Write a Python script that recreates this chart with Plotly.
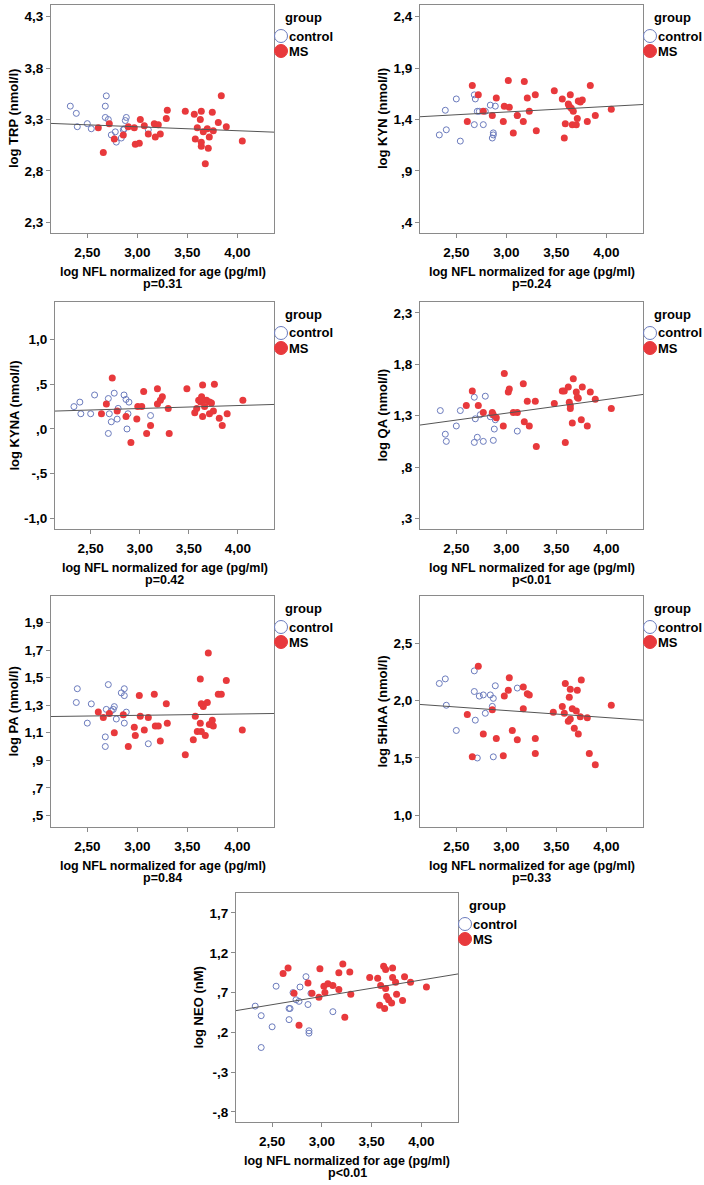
import plotly.graph_objects as go

W, H = 704, 1185
FONT = "Liberation Sans, Arial, sans-serif"
CTRL_COLOR = "#6b7bbd"
MS_COLOR = "#e8393c"
FRAME_COLOR = "#8a8a8a"

# ---------------------------------------------------------------------
# Data
# ---------------------------------------------------------------------
groups = ["control", "MS"]
x_title = "log NFL normalized for age (pg/ml)"
x_range = [2.137, 4.367]
x_tickvals = [2.5, 3.0, 3.5, 4.0]
x_ticktext = ["2,50", "3,00", "3,50", "4,00"]

# TRP
trp_ctrl_x = [2.33, 2.39, 2.40, 2.50, 2.54, 2.69, 2.68, 2.68, 2.71, 2.74, 2.78, 2.79, 2.84, 2.86, 2.87, 2.88, 2.89, 3.11]
trp_ctrl_y = [3.43, 3.36, 3.23, 3.26, 3.21, 3.53, 3.43, 3.32, 3.30, 3.15, 3.18, 3.08, 3.12, 3.20, 3.21, 3.29, 3.32, 3.20]
trp_ms_x = [2.61, 2.66, 2.72, 2.77, 2.86, 2.91, 2.97, 2.98, 3.02, 3.03, 3.07, 3.11, 3.17, 3.18, 3.21, 3.23, 3.29, 3.30, 3.48,
            3.57, 3.60, 3.58, 3.63, 3.64, 3.64, 3.64, 3.66, 3.68, 3.70, 3.71, 3.72, 3.75, 3.76, 3.81, 3.84, 3.89, 4.05]
trp_ms_y = [3.22, 2.98, 3.26, 3.11, 3.15, 3.23, 3.22, 3.06, 3.07, 3.30, 3.24, 3.16, 3.26, 3.13, 3.25, 3.16, 3.31, 3.39, 3.38,
            3.35, 3.22, 3.11, 3.30, 3.38, 3.04, 3.08, 3.18, 2.87, 3.21, 3.02, 3.13, 3.37, 3.19, 3.27, 3.53, 3.23, 3.09]
trp_fit = [3.262, 3.177]

# KYN
kyn_ctrl_x = [2.33, 2.39, 2.40, 2.50, 2.54, 2.68, 2.69, 2.68, 2.71, 2.73, 2.77, 2.79, 2.84, 2.86, 2.87, 2.87, 2.89, 3.11]
kyn_ctrl_y = [1.25, 1.49, 1.30, 1.60, 1.19, 1.64, 1.60, 1.35, 1.48, 1.48, 1.35, 1.48, 1.54, 1.22, 1.25, 1.27, 1.53, 1.44]
kyn_ms_x = [2.61, 2.66, 2.72, 2.77, 2.86, 2.90, 2.97, 2.98, 3.02, 3.03, 3.07, 3.11, 3.17, 3.18, 3.21, 3.23, 3.29, 3.30, 3.48,
            3.56, 3.58, 3.59, 3.62, 3.63, 3.64, 3.65, 3.67, 3.66, 3.70, 3.71, 3.72, 3.76, 3.74, 3.81, 3.84, 3.89, 4.05]
kyn_ms_y = [1.38, 1.73, 1.64, 1.48, 1.44, 1.61, 1.38, 1.53, 1.78, 1.52, 1.27, 1.44, 1.38, 1.77, 1.61, 1.48, 1.64, 1.29, 1.68,
            1.60, 1.22, 1.36, 1.55, 1.53, 1.64, 1.51, 1.48, 1.35, 1.35, 1.41, 1.58, 1.59, 1.57, 1.38, 1.73, 1.44, 1.50]
kyn_fit = [1.427, 1.546]

# KYNA
kyna_ctrl_x = [2.33, 2.39, 2.40, 2.50, 2.54, 2.68, 2.69, 2.68, 2.71, 2.74, 2.77, 2.78, 2.84, 2.86, 2.87, 2.88, 2.89, 3.11]
kyna_ctrl_y = [0.25, 0.30, 0.17, 0.17, 0.38, 0.34, 0.17, -0.05, 0.08, 0.40, 0.11, 0.23, 0.38, 0.33, 0.00, 0.17, 0.30, 0.15]
kyna_ms_x = [2.72, 2.66, 2.61, 2.77, 2.86, 2.91, 2.97, 2.98, 3.02, 3.04, 3.07, 3.11, 3.18, 3.18, 3.21, 3.23, 3.29, 3.30, 3.48,
             3.56, 3.58, 3.60, 3.62, 3.63, 3.64, 3.64, 3.66, 3.68, 3.71, 3.71, 3.73, 3.75, 3.76, 3.81, 3.84, 3.89, 4.05]
kyna_ms_y = [0.57, 0.28, 0.17, 0.20, 0.14, -0.15, 0.11, 0.25, 0.25, 0.42, -0.05, 0.04, 0.45, 0.28, 0.32, 0.36, 0.23, -0.05, 0.45,
             0.18, 0.23, 0.32, 0.30, 0.36, 0.49, 0.14, 0.25, 0.32, 0.30, 0.17, 0.29, 0.20, 0.50, 0.12, 0.04, 0.17, 0.32]
kyna_fit = [0.200, 0.274]

# QA
qa_ctrl_x = [2.34, 2.39, 2.40, 2.50, 2.54, 2.68, 2.68, 2.69, 2.71, 2.74, 2.77, 2.79, 2.84, 2.86, 2.88, 2.87, 2.89, 3.11]
qa_ctrl_y = [1.35, 1.12, 1.05, 1.20, 1.35, 1.48, 1.04, 1.27, 1.09, 1.31, 1.05, 1.49, 1.29, 1.31, 1.17, 1.06, 1.26, 1.15]
qa_ms_x = [2.60, 2.66, 2.72, 2.77, 2.86, 2.87, 2.90, 2.97, 2.98, 3.02, 3.03, 3.07, 3.11, 3.17, 3.18, 3.21, 3.23, 3.29, 3.30,
           3.48, 3.56, 3.58, 3.59, 3.62, 3.63, 3.64, 3.64, 3.66, 3.67, 3.70, 3.71, 3.72, 3.75, 3.76, 3.81, 3.84, 3.89, 4.05]
qa_ms_y = [1.40, 1.54, 1.40, 1.33, 1.33, 1.31, 1.28, 1.20, 1.71, 1.53, 1.56, 1.33, 1.33, 1.61, 1.24, 1.44, 1.20, 1.44, 1.00,
           1.42, 1.54, 1.54, 1.04, 1.58, 1.43, 1.40, 1.37, 1.23, 1.66, 1.53, 1.48, 1.47, 1.26, 1.58, 1.20, 1.53, 1.46, 1.37]
qa_fit = [1.209, 1.507]

# PA
pa_ctrl_x = [2.40, 2.39, 2.50, 2.54, 2.68, 2.68, 2.71, 2.69, 2.74, 2.76, 2.77, 2.79, 2.84, 2.87, 2.87, 2.87, 2.89, 3.11]
pa_ctrl_y = [1.42, 1.32, 1.17, 1.31, 1.07, 1.00, 1.45, 1.27, 1.26, 1.27, 1.29, 1.20, 1.39, 1.42, 1.37, 1.17, 1.25, 1.02]
pa_ms_x = [2.61, 2.66, 2.72, 2.77, 2.86, 2.91, 2.97, 2.98, 3.02, 3.03, 3.07, 3.11, 3.17, 3.18, 3.21, 3.23, 3.29, 3.30, 3.48,
           3.56, 3.58, 3.60, 3.63, 3.63, 3.64, 3.66, 3.64, 3.68, 3.70, 3.71, 3.72, 3.75, 3.76, 3.81, 3.84, 3.89, 4.05]
pa_ms_y = [1.25, 1.21, 1.24, 1.10, 1.23, 1.00, 1.14, 1.08, 1.37, 1.22, 1.12, 1.21, 1.38, 1.15, 1.15, 1.04, 1.31, 1.17, 0.94,
           1.05, 1.22, 1.11, 1.49, 1.17, 1.31, 1.29, 1.11, 1.08, 1.32, 1.68, 1.16, 1.19, 1.15, 1.38, 1.38, 1.48, 1.12]
pa_fit = [1.218, 1.240]

# 5HIAA
hiaa_ctrl_x = [2.33, 2.39, 2.40, 2.50, 2.68, 2.68, 2.69, 2.71, 2.73, 2.77, 2.79, 2.84, 2.87, 2.86, 2.87, 2.89, 3.11]
hiaa_ctrl_y = [2.15, 2.19, 1.96, 1.74, 2.26, 2.08, 1.83, 1.50, 2.04, 2.05, 1.89, 2.05, 2.02, 1.95, 1.51, 2.13, 2.11]
hiaa_ms_x = [2.61, 2.66, 2.72, 2.77, 2.86, 2.90, 2.97, 2.98, 3.02, 3.03, 3.06, 3.11, 3.17, 3.17, 3.21, 3.23, 3.29, 3.29, 3.47,
             3.56, 3.58, 3.59, 3.63, 3.64, 3.62, 3.64, 3.66, 3.68, 3.70, 3.71, 3.72, 3.75, 3.74, 3.81, 3.83, 3.89, 4.05]
hiaa_ms_y = [1.88, 1.51, 2.30, 1.71, 1.92, 1.67, 1.52, 2.04, 2.09, 2.20, 1.74, 1.66, 2.12, 1.93, 2.06, 2.05, 1.54, 1.67, 1.90,
             1.95, 1.89, 2.15, 2.03, 2.10, 1.82, 1.84, 1.93, 1.76, 1.91, 2.09, 1.71, 2.18, 1.86, 1.85, 1.54, 1.44, 1.96]
hiaa_fit = [1.967, 1.830]

# NEO
neo_ctrl_x = [2.33, 2.39, 2.39, 2.50, 2.54, 2.67, 2.68, 2.67, 2.71, 2.74, 2.77, 2.78, 2.84, 2.86, 2.87, 2.87, 2.89, 3.11]
neo_ctrl_y = [0.53, 0.41, 0.01, 0.27, 0.78, 0.50, 0.50, 0.36, 0.70, 0.61, 0.59, 0.77, 0.90, 0.55, 0.22, 0.19, 0.69, 0.46]
neo_ms_x = [2.61, 2.66, 2.72, 2.77, 2.86, 2.90, 2.97, 2.98, 3.02, 3.03, 3.06, 3.11, 3.17, 3.17, 3.21, 3.23, 3.28, 3.29, 3.48,
            3.56, 3.58, 3.59, 3.62, 3.63, 3.64, 3.64, 3.65, 3.67, 3.70, 3.71, 3.71, 3.74, 3.75, 3.81, 3.83, 3.89, 4.05]
neo_ms_y = [0.94, 1.01, 0.69, 0.29, 0.82, 0.69, 0.64, 1.00, 0.78, 0.70, 0.81, 0.79, 0.74, 0.95, 1.06, 0.39, 0.96, 0.68, 0.89,
            0.88, 0.54, 0.79, 1.03, 0.50, 0.99, 0.75, 0.65, 0.61, 0.57, 1.01, 0.89, 0.83, 0.68, 0.60, 0.90, 0.83, 0.77]
neo_fit = [0.473, 0.934]

# ---------------------------------------------------------------------
# Panel definitions: frame in pixels (left, top, right, bottom)
# ---------------------------------------------------------------------
panels = [
    dict(ytitle="log TRP (nmol/l)", p="p=0.31", frame=(51, 5, 274, 233), yrange=[2.196, 4.414],
         yticks=[2.3, 2.8, 3.3, 3.8, 4.3], ytext=["2,3", "2,8", "3,3", "3,8", "4,3"],
         data=(trp_ctrl_x, trp_ctrl_y, trp_ms_x, trp_ms_y, trp_fit)),
    dict(ytitle="log KYN (nmol/l)", p="p=0.24", frame=(420, 5, 643, 233), yrange=[0.296, 2.514],
         yticks=[0.4, 0.9, 1.4, 1.9, 2.4], ytext=[",4", ",9", "1,4", "1,9", "2,4"],
         data=(kyn_ctrl_x, kyn_ctrl_y, kyn_ms_x, kyn_ms_y, kyn_fit)),
    dict(ytitle="log KYNA (nmol/l)", p="p=0.42", frame=(55, 302, 274, 529), yrange=[-1.118, 1.419],
         yticks=[-1.0, -0.5, 0.0, 0.5, 1.0], ytext=["-1,0", "-,5", ",0", ",5", "1,0"],
         data=(kyna_ctrl_x, kyna_ctrl_y, kyna_ms_x, kyna_ms_y, kyna_fit)),
    dict(ytitle="log QA (nmol/l)", p="p<0.01", frame=(420, 302, 643, 529), yrange=[0.197, 2.407],
         yticks=[0.3, 0.8, 1.3, 1.8, 2.3], ytext=[",3", ",8", "1,3", "1,8", "2,3"],
         data=(qa_ctrl_x, qa_ctrl_y, qa_ms_x, qa_ms_y, qa_fit)),
    dict(ytitle="log PA (nmol/l)", p="p=0.84", frame=(51, 596, 274, 827), yrange=[0.415, 2.094],
         yticks=[0.5, 0.7, 0.9, 1.1, 1.3, 1.5, 1.7, 1.9],
         ytext=[",5", ",7", ",9", "1,1", "1,3", "1,5", "1,7", "1,9"],
         data=(pa_ctrl_x, pa_ctrl_y, pa_ms_x, pa_ms_y, pa_fit)),
    dict(ytitle="log 5HIAA (nmol/l)", p="p=0.33", frame=(420, 596, 643, 827), yrange=[0.898, 2.913],
         yticks=[1.0, 1.5, 2.0, 2.5], ytext=["1,0", "1,5", "2,0", "2,5"],
         data=(hiaa_ctrl_x, hiaa_ctrl_y, hiaa_ms_x, hiaa_ms_y, hiaa_fit)),
    dict(ytitle="log NEO (nM)", p="p<0.01", frame=(236, 893, 458, 1122), yrange=[-0.926, 1.951],
         yticks=[-0.8, -0.3, 0.2, 0.7, 1.2, 1.7], ytext=["-,8", "-,3", ",2", ",7", "1,2", "1,7"],
         data=(neo_ctrl_x, neo_ctrl_y, neo_ms_x, neo_ms_y, neo_fit)),
]


def px(x):
    return x / W


def py(y):
    return 1 - y / H


fig = go.Figure()
annotations = []
shapes = []
bold = dict(family=FONT, size=13, color="black", weight="bold")

for i, pn in enumerate(panels, start=1):
    left, top, right, bottom = pn["frame"]
    cx, cy, mx, my, fit = pn["data"]
    xa = "x" if i == 1 else f"x{i}"
    ya = "y" if i == 1 else f"y{i}"

    fig.add_trace(go.Scatter(x=cx, y=cy, mode="markers", xaxis=xa, yaxis=ya, showlegend=False,
                             marker=dict(symbol="circle-open", size=6, color=CTRL_COLOR, line=dict(width=1))))
    fig.add_trace(go.Scatter(x=mx, y=my, mode="markers", xaxis=xa, yaxis=ya, showlegend=False,
                             marker=dict(symbol="circle", size=7, color=MS_COLOR, line=dict(width=0))))
    fig.add_trace(go.Scatter(x=x_range, y=fit, mode="lines", xaxis=xa, yaxis=ya, showlegend=False,
                             line=dict(color="#555555", width=1)))

    axis_common = dict(showline=True, mirror=True, linecolor=FRAME_COLOR, linewidth=1, showgrid=False,
                       zeroline=False, ticks="outside", ticklen=4, tickcolor=FRAME_COLOR,
                       tickfont=dict(family=FONT, size=13.5, color="black", weight="bold"))
    fig.update_layout(**{
        ("xaxis" if i == 1 else f"xaxis{i}"): dict(
            axis_common, domain=[px(left), px(right)], range=x_range, anchor=ya,
            tickvals=x_tickvals, ticktext=x_ticktext, ticklabelstandoff=3),
        ("yaxis" if i == 1 else f"yaxis{i}"): dict(
            axis_common, domain=[py(bottom), py(top)], range=pn["yrange"], anchor=xa,
            tickvals=pn["yticks"], ticktext=pn["ytext"]),
    })

    # axis titles and p value
    ytitle_x = left - (41 if i == 3 else 38)
    annotations.append(dict(text=pn["ytitle"], x=px(ytitle_x), y=py((top + bottom) / 2), xref="paper", yref="paper",
                            textangle=-90, showarrow=False, xanchor="center", yanchor="middle", font=bold))
    annotations.append(dict(text=x_title, x=px((left + right) / 2), y=py(bottom + 39), xref="paper", yref="paper",
                            showarrow=False, xanchor="center", yanchor="middle", font=dict(bold, size=12.5)))
    annotations.append(dict(text=pn["p"], x=px((left + right) / 2), y=py(bottom + 51), xref="paper", yref="paper",
                            showarrow=False, xanchor="center", yanchor="middle", font=dict(bold, size=12.5)))

    # legend block
    annotations.append(dict(text="group", x=px(right + 9), y=py(top + 12), xref="paper", yref="paper",
                            showarrow=False, xanchor="left", yanchor="middle", font=bold))
    for k, (name, color) in enumerate(zip(groups, [CTRL_COLOR, MS_COLOR])):
        yy = top + 31 + 15 * k
        shapes.append(dict(type="circle", xref="paper", yref="paper", xsizemode="pixel", ysizemode="pixel",
                           xanchor=px(right + 7), yanchor=py(yy), x0=-6.5, x1=6.5, y0=-6.5, y1=6.5,
                           line=dict(color=color, width=1),
                           fillcolor="white" if k == 0 else color))
        annotations.append(dict(text=name, x=px(right + 13), y=py(yy), xref="paper", yref="paper",
                                showarrow=False, xanchor="left", yanchor="middle", font=bold))

fig.update_layout(width=W, height=H, margin=dict(l=0, r=0, t=0, b=0), autosize=False,
                  paper_bgcolor="white", plot_bgcolor="white", showlegend=False,
                  annotations=annotations, shapes=shapes)

fig.write_html("out.html", config={"displayModeBar": False},
               post_script="document.body.style.margin='0';")
